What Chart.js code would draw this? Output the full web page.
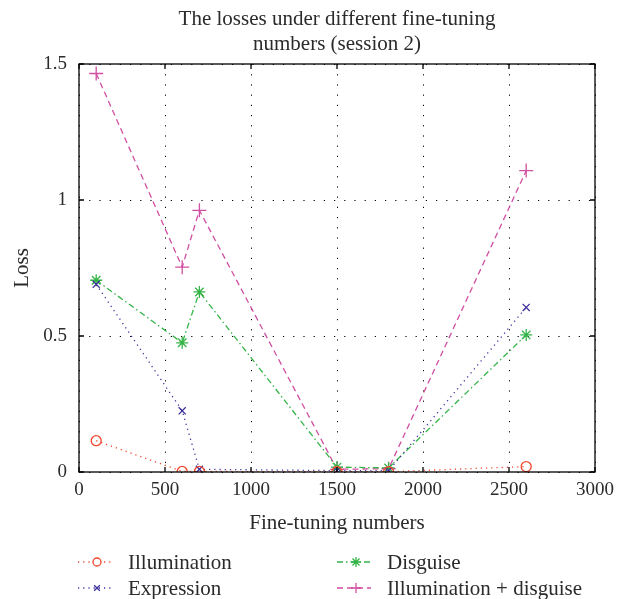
<!DOCTYPE html>
<html>
<head>
<meta charset="utf-8">
<script src="https://cdn.jsdelivr.net/npm/chart.js@4.4.0/dist/chart.umd.min.js"></script>
<style>
  html, body { margin: 0; padding: 0; background: #fff; }
  #wrap { width: 627px; height: 599px; position: relative; }
</style>
</head>
<body>
<div id="wrap"><canvas id="myChart" width="627" height="599"></canvas></div>
<script>
// fine-tuning numbers (x) and losses per session
var tuningNumbers = [100, 600, 700, 1500, 1800, 2600];
var illumination = [0.115, 0.002, 0.002, 0.001, 0.001, 0.02];
var expression = [0.69, 0.225, 0.01, 0.005, 0.005, 0.605];
var disguise = [0.705, 0.475, 0.662, 0.018, 0.015, 0.504];
var illumDisguise = [1.465, 0.753, 0.962, 0.01, 0.012, 1.108];

var xTicks = [0, 500, 1000, 1500, 2000, 2500, 3000];
var yTicks = [0, 0.5, 1, 1.5];

var titleLines = ["The losses under different fine-tuning", "numbers (session 2)"];

var serif = "'Liberation Serif', 'DejaVu Serif', serif";
var textColor = "#2b2b2b";

function toPoints(values) {
  return values.map(function (v, i) { return { x: tuningNumbers[i], y: v }; });
}

var series = [
  { label: "Illumination", data: illumination, color: "#f2472b", dash: [1.2, 4], point: "circle", radius: 5, legendRadius: 4 },
  { label: "Expression", data: expression, color: "#3b2f9c", dash: [1.2, 4], point: "crossRot", radius: 5, legendRadius: 4 },
  { label: "Disguise", data: disguise, color: "#35b448", dash: [6, 3, 1.5, 3], point: "star", radius: 6, legendRadius: 5 },
  { label: "Illumination + disguise", data: illumDisguise, color: "#d14fa2", dash: [6, 4], point: "cross", radius: 7, legendRadius: 5 }
];

// frame with inward ticks, like matlab axes
var framePlugin = {
  id: "frame",
  afterDraw: function (chart) {
    var ctx = chart.ctx;
    var a = chart.chartArea;
    var xs = chart.scales.x, ys = chart.scales.y;
    ctx.save();
    ctx.strokeStyle = "#000";
    ctx.lineWidth = 1.3;
    ctx.setLineDash([]);
    ctx.strokeRect(a.left, a.top, a.right - a.left, a.bottom - a.top);
    ctx.beginPath();
    xTicks.forEach(function (t) {
      var px = xs.getPixelForValue(t);
      ctx.moveTo(px, a.bottom); ctx.lineTo(px, a.bottom - 5);
      ctx.moveTo(px, a.top); ctx.lineTo(px, a.top + 5);
    });
    yTicks.forEach(function (t) {
      var py = ys.getPixelForValue(t);
      ctx.moveTo(a.left, py); ctx.lineTo(a.left + 5, py);
      ctx.moveTo(a.right, py); ctx.lineTo(a.right - 5, py);
    });
    ctx.stroke();

    // title centred over the plot area
    ctx.fillStyle = textColor;
    ctx.font = "21px " + serif;
    ctx.textAlign = "center";
    ctx.textBaseline = "alphabetic";
    var cx = (a.left + a.right) / 2;
    ctx.fillText(titleLines[0], cx, 25);
    ctx.fillText(titleLines[1], cx, 50);
    ctx.restore();
  }
};

// legend drawn under the axes, two columns
var legendPlugin = {
  id: "bottomLegend",
  afterDraw: function (chart) {
    var ctx = chart.ctx;
    var cols = [78, 337];
    var rows = [562, 588];
    ctx.save();
    chart.data.datasets.forEach(function (ds, i) {
      var x = cols[Math.floor(i / 2)];
      var y = rows[i % 2];
      ctx.strokeStyle = ds.borderColor;
      ctx.lineWidth = 1.3;
      ctx.setLineDash(ds.borderDash);
      ctx.beginPath();
      ctx.moveTo(x, y); ctx.lineTo(x + 34, y);
      ctx.stroke();
      ctx.setLineDash([]);
      ctx.fillStyle = "#fff";
      Chart.helpers.drawPoint(ctx, {
        pointStyle: ds.pointStyle, radius: series[i].legendRadius, borderWidth: 1.3, rotation: 0
      }, x + 19, y);
      ctx.fillStyle = textColor;
      ctx.font = "21px " + serif;
      ctx.textBaseline = "middle";
      ctx.fillText(ds.label, x + 50, y + 1);
    });
    ctx.restore();
  }
};

var ctx = document.getElementById("myChart").getContext("2d");
var myChart = new Chart(ctx, {
  type: "line",
  data: {
    datasets: series.map(function (s) {
      return {
        label: s.label,
        data: toPoints(s.data),
        borderColor: s.color,
        backgroundColor: "rgba(0,0,0,0)",
        borderWidth: 1.3,
        borderDash: s.dash,
        pointStyle: s.point,
        pointRadius: s.radius,
        pointBorderColor: s.color,
        pointBackgroundColor: "rgba(0,0,0,0)",
        pointBorderWidth: 1.3,
        tension: 0,
        fill: false
      };
    })
  },
  options: {
    responsive: false,
    animation: false,
    layout: { padding: { left: 0, right: 32, top: 64, bottom: 59 } },
    plugins: {
      legend: { display: false },
      tooltip: { enabled: false },
      title: { display: false }
    },
    scales: {
      x: {
        type: "linear",
        min: 0,
        max: 3000,
        afterBuildTicks: function (scale) { scale.ticks = xTicks.map(function (v) { return { value: v }; }); },
        afterFit: function (scale) { scale.height = 68; },
        ticks: {
          color: textColor, font: { family: serif, size: 19 }, maxRotation: 0, padding: 7,
          callback: function (v) { return String(v); }
        },
        grid: { color: "#000", lineWidth: 1, drawTicks: false },
        border: { display: false, dash: [1.2, 9] },
        title: { display: true, text: "Fine-tuning numbers", color: textColor, font: { family: serif, size: 21 }, padding: { top: 4 } }
      },
      y: {
        min: 0,
        max: 1.5,
        afterBuildTicks: function (scale) { scale.ticks = yTicks.map(function (v) { return { value: v }; }); },
        afterFit: function (scale) { scale.width = 79; },
        ticks: {
          color: textColor, font: { family: serif, size: 19 }, padding: 12,
          callback: function (v) { return String(v); }
        },
        grid: { color: "#000", lineWidth: 1, drawTicks: false },
        border: { display: false, dash: [1.2, 9] },
        title: { display: true, text: "Loss", color: textColor, font: { family: serif, size: 21 }, padding: { top: 10, bottom: 0 } }
      }
    }
  },
  plugins: [framePlugin, legendPlugin]
});
</script>
</body>
</html>
